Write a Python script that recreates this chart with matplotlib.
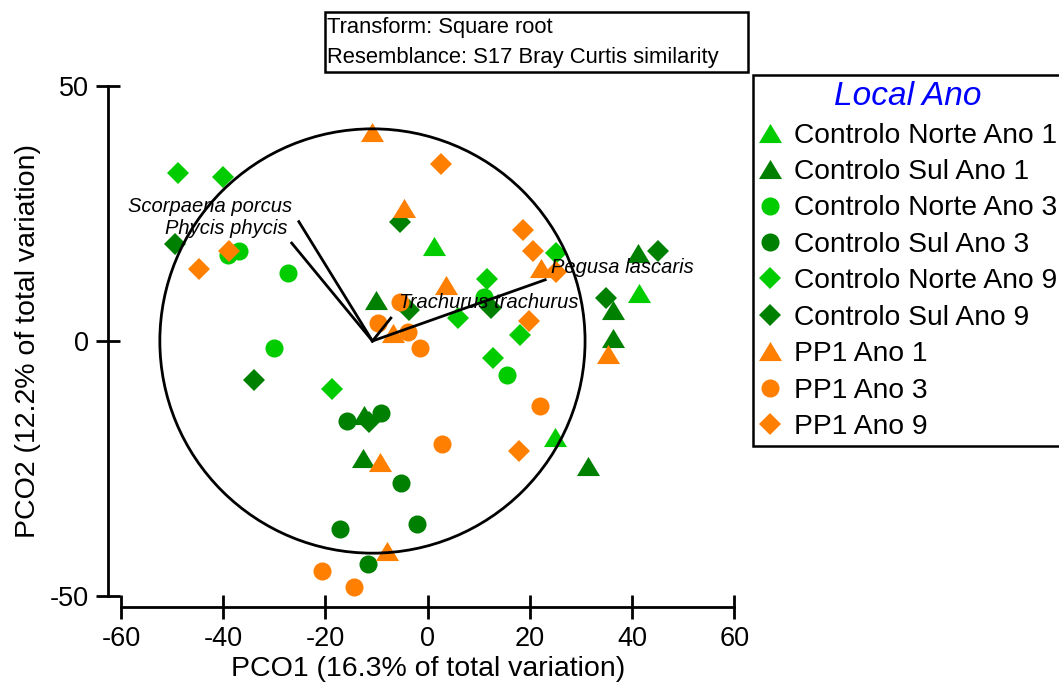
import matplotlib.pyplot as plt
from matplotlib.patches import Circle, Rectangle
from matplotlib.path import Path

plt.rcParams['font.family'] = ['Liberation Sans', 'DejaVu Sans']
plt.rcParams['axes.unicode_minus'] = False

# PCO scores per group (PCO1, PCO2)
cn1_x = [1.3, 41.4, 24.9]
cn1_y = [18.7, 9.4, -18.8]
cs1_x = [-10.1, 41.1, 36.3, 36.2, -12.4, -12.7, 31.4]
cs1_y = [8.0, 17.2, 6.1, 0.5, -14.5, -23.0, -24.5]
cn3_x = [-39.1, -37.0, -27.4, -30.1, 15.5, 11.1]
cn3_y = [16.9, 17.6, 13.4, -1.3, -6.7, 8.7]
cs3_x = [-15.8, -9.1, -5.3, -17.1, -2.1, -11.7]
cs3_y = [-15.7, -14.2, -27.9, -36.9, -35.9, -43.8]
cn9_x = [-48.9, -40.1, -18.7, 11.7, 5.9, 18.1, 12.7, 25.1]
cn9_y = [32.9, 32.1, -9.4, 12.1, 4.5, 1.2, -3.4, 17.2]
cs9_x = [-5.5, -49.4, -33.9, -11.5, -3.6, 12.4, 45.0, 34.9]
cs9_y = [23.3, 19.0, -7.6, -15.8, 6.1, 6.4, 17.7, 8.4]
pp1_x = [-10.8, -4.6, 3.6, 22.2, -6.8, 35.2, -9.3, -8.0]
pp1_y = [40.9, 26.0, 11.0, 14.4, 1.5, -2.5, -23.7, -41.1]
pp3_x = [-5.5, -9.8, -3.9, -1.4, 22.0, 2.9, -20.7, -14.5]
pp3_y = [7.7, 3.5, 1.8, -1.4, -12.7, -20.1, -45.1, -48.3]
pp9_x = [2.6, -38.8, -44.8, 18.7, 20.7, 25.1, 19.9, 17.9]
pp9_y = [34.8, 17.6, 14.1, 21.8, 17.7, 13.6, 4.0, -21.6]

labels = ['Controlo Norte Ano 1', 'Controlo Sul Ano 1', 'Controlo Norte Ano 3',
          'Controlo Sul Ano 3', 'Controlo Norte Ano 9', 'Controlo Sul Ano 9',
          'PP1 Ano 1', 'PP1 Ano 3', 'PP1 Ano 9']
xs = [cn1_x, cs1_x, cn3_x, cs3_x, cn9_x, cs9_x, pp1_x, pp3_x, pp9_x]
ys = [cn1_y, cs1_y, cn3_y, cs3_y, cn9_y, cs9_y, pp1_y, pp3_y, pp9_y]

# species vectors (Spearman correlation overlay)
species = ['Scorpaena porcus', 'Phycis phycis', 'Trachurus trachurus', 'Pegusa lascaris']
vec_x = [-25.2, -26.6, -7.2, 23.0]
vec_y = [23.4, 19.2, 4.5, 12.0]
circle_center = (-10.8, 0.0)
circle_radius = 41.6

light = '#00CC00'
dark = '#008000'
orange = '#FF8000'
tri = Path([(0, 0.83), (-1, -0.83), (1, -0.83), (0, 0.83)], closed=True)
styles = [
    (light, tri, 16.6), (dark, tri, 16.6),
    (light, 'o', 13), (dark, 'o', 13),
    (light, 'D', 11.2), (dark, 'D', 11.2),
    (orange, tri, 16.6), (orange, 'o', 13), (orange, 'D', 11.2),
]

fig = plt.figure(figsize=(10.59, 6.85), dpi=100)
ax = fig.add_axes([121 / 1059, 1 - 596 / 685, 613.3 / 1059, 510 / 685])

handles = []
for x, y, lab, (col, mk, ms) in zip(xs, ys, labels, styles):
    h, = ax.plot(x, y, linestyle='none', marker=mk, markersize=ms, color=col,
                 markeredgewidth=0, clip_on=False, label=lab)
    handles.append(h)

ax.add_patch(Circle(circle_center, circle_radius, fill=False, lw=2.0, color='black', zorder=5))
for vx, vy in zip(vec_x, vec_y):
    ax.plot([circle_center[0], vx], [circle_center[1], vy], color='black', lw=2.0, zorder=5)

ax.text(-26.5, 25.3, species[0], ha='right', va='baseline', style='italic', fontsize=14.5, zorder=6)
ax.text(-27.4, 21.0, species[1], ha='right', va='baseline', style='italic', fontsize=14.5, zorder=6)
ax.text(-5.7, 6.4, species[2], ha='left', va='baseline', style='italic', fontsize=14.5, zorder=6)
ax.text(24.1, 13.3, species[3], ha='left', va='baseline', style='italic', fontsize=14.5, zorder=6)

ax.set_xlim(-60, 60)
ax.set_ylim(-50, 50)
ax.set_xticks([-60, -40, -20, 0, 20, 40, 60])
ax.set_yticks([-50, 0, 50])
ax.spines['top'].set_visible(False)
ax.spines['right'].set_visible(False)
ax.spines['left'].set_position(('outward', 9.1))
ax.spines['bottom'].set_position(('outward', 7.7))
for s in ('left', 'bottom'):
    ax.spines[s].set_linewidth(2.0)
ax.tick_params(direction='inout', length=16.6, width=2.0, labelsize=19.5, pad=5.5)

ax.set_xlabel('PCO1 (16.3% of total variation)', fontsize=20.5)
ax.xaxis.set_label_coords(0.5, -0.117)
ax.set_ylabel('PCO2 (12.2% of total variation)', fontsize=20.5, va='center')
ax.yaxis.set_label_coords(-0.151, 0.5)

# header box
fig.add_artist(Rectangle((325 / 1059, 1 - 71.7 / 685), 422.7 / 1059, 60 / 685,
                         transform=fig.transFigure, fill=False, lw=1.8, color='black'))
fig.text(327 / 1059, 1 - 33.3 / 685, 'Transform: Square root', va='baseline', fontsize=15.8)
fig.text(327 / 1059, 1 - 63.3 / 685, 'Resemblance: S17 Bray Curtis similarity',
         va='baseline', fontsize=15.8)

leg = fig.legend(handles=handles, loc='upper left', bbox_to_anchor=(752.7 / 1059, 1 - 75 / 685),
                 borderaxespad=0, fancybox=False, edgecolor='black', framealpha=1,
                 fontsize=20.3, numpoints=1, title='Local Ano',
                 title_fontproperties={'size': 24, 'style': 'italic'},
                 labelspacing=0.37, handlelength=0.8, handletextpad=0.45, borderpad=0.22)
leg.get_title().set_color('blue')
leg.get_frame().set_linewidth(1.8)

fig.savefig('out.png', dpi=100)
